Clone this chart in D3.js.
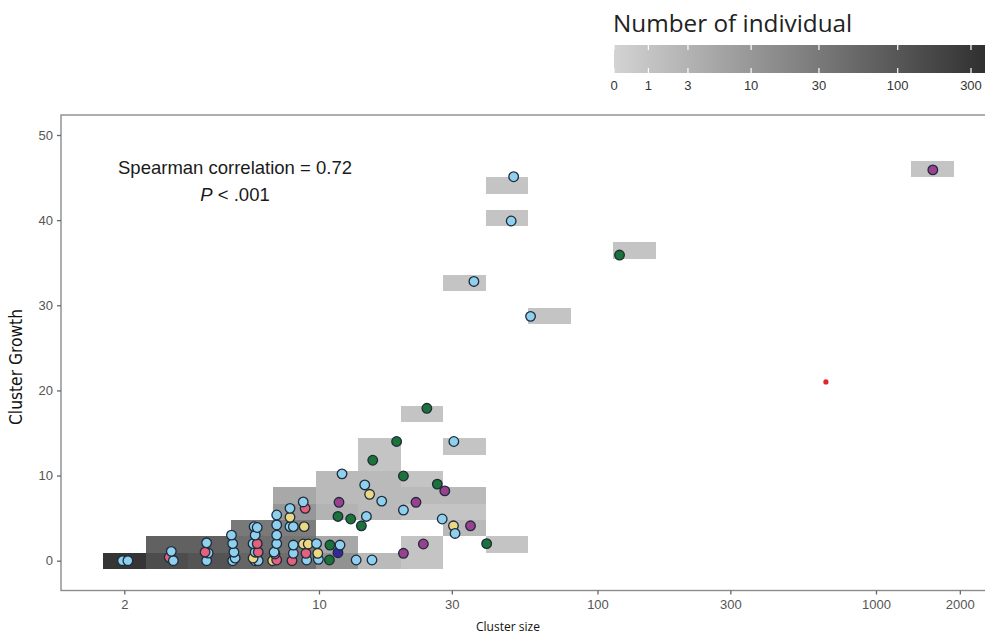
<!DOCTYPE html>
<html><head><meta charset="utf-8">
<script src="https://d3js.org/d3.v7.min.js"></script>
<style>body{margin:0;background:#fff}</style>
</head><body>
<svg id="c" width="985" height="634"></svg>
<script>
// ---------- data ----------
const xTicks = [2, 10, 30, 100, 300, 1000, 2000];
const yTicks = [0, 10, 20, 30, 40, 50];
const legendTicks = [0, 1, 3, 10, 30, 100, 300];

// 2D bins: [xBin, yBin, number of individuals]
const XW = 0.1527;      // bin width in log10(cluster size), centred on 2
const YW = 46 / 24;     // bin width in growth units, centred on 0
const tiles = [
  [0,0,320],
  [1,0,140],[1,1,70],
  [2,0,110],[2,1,70],
  [3,0,60],[3,1,45],[3,2,30],
  [4,0,45],[4,1,35],[4,2,25],[4,3,10],[4,4,5],
  [5,0,12],[5,1,5],[5,3,3],[5,4,2],[5,5,2],
  [6,0,2],[6,3,2],[6,4,2],[6,5,2],[6,6,1],[6,7,1],
  [7,0,1],[7,1,1],[7,3,1],[7,4,2],[7,5,1],[7,9,1],
  [8,2,2],[8,3,1],[8,4,2],[8,7,1],[8,17,1],
  [9,1,1],[9,21,1],[9,23,1],
  [10,15,1],[12,19,1],[19,24,1]
];

// clusters: [cluster size, cluster growth, group]
const clusters = [
  [1.97,0,"A"],[2.06,0,"A"],
  [2.9,0.4,"D"],[3.0,0,"A"],[2.95,1.1,"A"],
  [3.95,0,"A"],[4.0,0.9,"A"],[3.9,1.0,"D"],[3.95,2.1,"A"],
  [4.9,0,"A"],[5.0,0.3,"A"],[4.95,1.0,"A"],[4.9,2.0,"A"],[4.85,3.0,"A"],
  [5.9,0,"A"],[6.05,0,"A"],[5.8,0.3,"E"],[5.9,1.0,"A"],[6.05,1.0,"D"],[5.8,2.0,"A"],[6.0,2.0,"D"],[5.9,3.0,"A"],[5.85,4.0,"A"],[6.0,3.9,"A"],
  [6.82,0,"E"],[7.05,0.08,"D"],[6.95,0.79,"D"],[6.9,1.0,"A"],[7.05,2.0,"A"],[7.05,3.0,"A"],[7.05,4.2,"A"],[7.05,5.37,"A"],
  [8.0,0,"D"],[8.09,0.87,"A"],[8.09,1.84,"A"],[7.87,4.0,"A"],[8.09,4.0,"A"],[7.87,5.1,"E"],[7.87,6.15,"A"],
  [9.03,0.08,"A"],[8.98,0.87,"D"],[8.78,1.96,"E"],[9.15,1.96,"E"],[8.85,4.0,"E"],[8.92,6.15,"D"],[8.78,6.9,"A"],
  [9.95,0.16,"A"],[9.9,0.87,"E"],[9.8,2.0,"A"],
  [10.9,0.08,"B"],[10.95,1.84,"B"],[11.7,0.94,"F"],[11.9,1.84,"A"],[11.7,5.2,"B"],[11.8,6.86,"C"],[12.1,10.2,"A"],
  [13.6,0.08,"A"],[15.5,0.08,"A"],[13.0,4.9,"B"],[14.2,4.1,"B"],[14.8,5.2,"A"],[14.6,8.9,"A"],[15.2,7.8,"E"],[15.6,11.8,"B"],[16.8,7.0,"A"],
  [19.0,14.0,"B"],[20.1,9.95,"B"],[20.1,5.95,"A"],[22.3,6.86,"C"],[23.7,1.96,"C"],[20.1,0.87,"C"],
  [26.6,9.0,"B"],[28.3,8.2,"C"],[27.7,4.9,"A"],[30.4,4.1,"E"],[30.8,3.2,"A"],[35,4.1,"C"],[40,2.0,"B"],
  [24.4,17.9,"B"],[30.5,14.0,"A"],
  [57.5,28.7,"A"],[36,32.8,"A"],[120,35.9,"B"],[49,39.9,"A"],[50,45.1,"A"],[1600,45.9,"C"]
];
const strayPoint = [[661, 21.0]];

const groupColors = {A:"#8fd0ef", B:"#1c7339", C:"#9b3f8f", D:"#e3617c", E:"#ecd882", F:"#33299a"};

// ---------- drawing ----------
const svg = d3.select("#c");
svg.append("rect").attr("width",985).attr("height",634).attr("fill","#fff");

const P = {left:61, right:995, top:115, bottom:590.5};
const x = d3.scaleLog().domain([1.185, 2675]).range([P.left, P.right]);
const y = d3.scaleLinear().domain([-3.5, 52.35]).range([P.bottom, P.top]);
const color = d3.scaleSequentialSymlog(d3.interpolateRgb("#d3d3d3", "#2c2c2c")).constant(1.5).domain([0, 430]);

const xc = k => 2 * Math.pow(10, k * XW);
const half = Math.pow(10, XW / 2);

svg.append("g").selectAll("rect").data(tiles).join("rect")
  .attr("x", d => x(xc(d[0]) / half))
  .attr("width", d => x(xc(d[0]) * half) - x(xc(d[0]) / half))
  .attr("y", d => y((d[1] + 0.5) * YW))
  .attr("height", d => y((d[1] - 0.5) * YW) - y((d[1] + 0.5) * YW))
  .attr("fill", d => color(d[2]))
  .attr("shape-rendering", "crispEdges");

// panel border
svg.append("rect").attr("x", P.left).attr("y", P.top)
  .attr("width", P.right - P.left).attr("height", P.bottom - P.top)
  .attr("fill", "none").attr("stroke", "#8c8c8c").attr("stroke-width", 1.4);

// axes
const xa = svg.append("g").attr("transform", `translate(0,${P.bottom})`)
  .call(d3.axisBottom(x).tickValues(xTicks).tickFormat(d3.format("d")).tickSize(4).tickPadding(5));
const ya = svg.append("g").attr("transform", `translate(${P.left},0)`)
  .call(d3.axisLeft(y).tickValues(yTicks).tickSize(4).tickPadding(4));
[xa, ya].forEach(a => {
  a.select(".domain").remove();
  a.selectAll(".tick line").attr("stroke", "#666").attr("stroke-width", 1.3);
  a.selectAll(".tick text").attr("fill", "#555").attr("font-family", "Liberation Sans, Arial, sans-serif").attr("font-size", 13);
});

// points
svg.append("g").selectAll("circle").data(clusters).join("circle")
  .attr("cx", d => x(d[0])).attr("cy", d => y(d[1])).attr("r", 4.8)
  .attr("fill", d => groupColors[d[2]])
  .attr("stroke", "#1d2b3a").attr("stroke-width", 1.3);

svg.append("g").selectAll("circle").data(strayPoint).join("circle")
  .attr("cx", d => x(d[0])).attr("cy", d => y(d[1])).attr("r", 2.6)
  .attr("fill", "#e0262a");

// annotation
svg.append("text").attr("x", 235).attr("y", 173.5).attr("text-anchor", "middle")
  .attr("font-family", "Liberation Sans, Arial, sans-serif").attr("font-size", 18.5).attr("fill", "#1a1a1a")
  .text("Spearman correlation = 0.72");
const pt = svg.append("text").attr("x", 235).attr("y", 200.5).attr("text-anchor", "middle")
  .attr("font-family", "Liberation Sans, Arial, sans-serif").attr("font-size", 18.5).attr("fill", "#1a1a1a");
pt.append("tspan").attr("font-style", "italic").text("P");
pt.append("tspan").text(" < .001");

// axis titles
svg.append("text").attr("transform", "translate(22,367) rotate(-90)").attr("text-anchor", "middle")
  .attr("font-family", "Liberation Sans Narrow, DejaVu Sans Condensed, sans-serif").attr("font-stretch", "condensed")
  .attr("font-size", 18).attr("fill", "#111").attr("textLength", 116).attr("lengthAdjust", "spacingAndGlyphs")
  .text("Cluster Growth");
svg.append("text").attr("x", 508).attr("y", 631).attr("text-anchor", "middle")
  .attr("font-family", "Open Sans, sans-serif").attr("font-size", 12.5).attr("fill", "#111")
  .attr("textLength", 64).attr("lengthAdjust", "spacingAndGlyphs")
  .text("Cluster size");

// legend
const lx = d3.scaleSymlog().constant(1.5).domain([0, 300]).range([614, 971]);
const barL = 614, barR = 995, barT = 45, barB = 73;
const defs = svg.append("defs");
const grad = defs.append("linearGradient").attr("id", "lg").attr("x1", "0%").attr("x2", "100%");
d3.range(0, 1.0001, 0.05).forEach(t => {
  const v = lx.invert(barL + t * (barR - barL));
  grad.append("stop").attr("offset", (t * 100) + "%").attr("stop-color", color(v));
});
svg.append("rect").attr("x", barL).attr("y", barT).attr("width", barR - barL).attr("height", barB - barT)
  .attr("fill", "url(#lg)");
const lt = svg.append("g");
lt.selectAll("line.t").data(legendTicks).join("line").attr("class", "t")
  .attr("x1", d => lx(d)).attr("x2", d => lx(d)).attr("y1", barT).attr("y2", barT + 5)
  .attr("stroke", "#fff").attr("stroke-width", 1.2);
lt.selectAll("line.b").data(legendTicks).join("line").attr("class", "b")
  .attr("x1", d => lx(d)).attr("x2", d => lx(d)).attr("y1", barB - 5).attr("y2", barB)
  .attr("stroke", "#fff").attr("stroke-width", 1.2);
lt.selectAll("text").data(legendTicks).join("text")
  .attr("x", d => lx(d)).attr("y", 90).attr("text-anchor", "middle")
  .attr("font-family", "Liberation Sans, Arial, sans-serif").attr("font-size", 13).attr("fill", "#333")
  .text(d => d);
svg.append("text").attr("x", 613).attr("y", 31.5)
  .attr("font-family", "Open Sans, sans-serif").attr("font-size", 24.3).attr("fill", "#222")
  .text("Number of individual");
</script>
</body></html>
